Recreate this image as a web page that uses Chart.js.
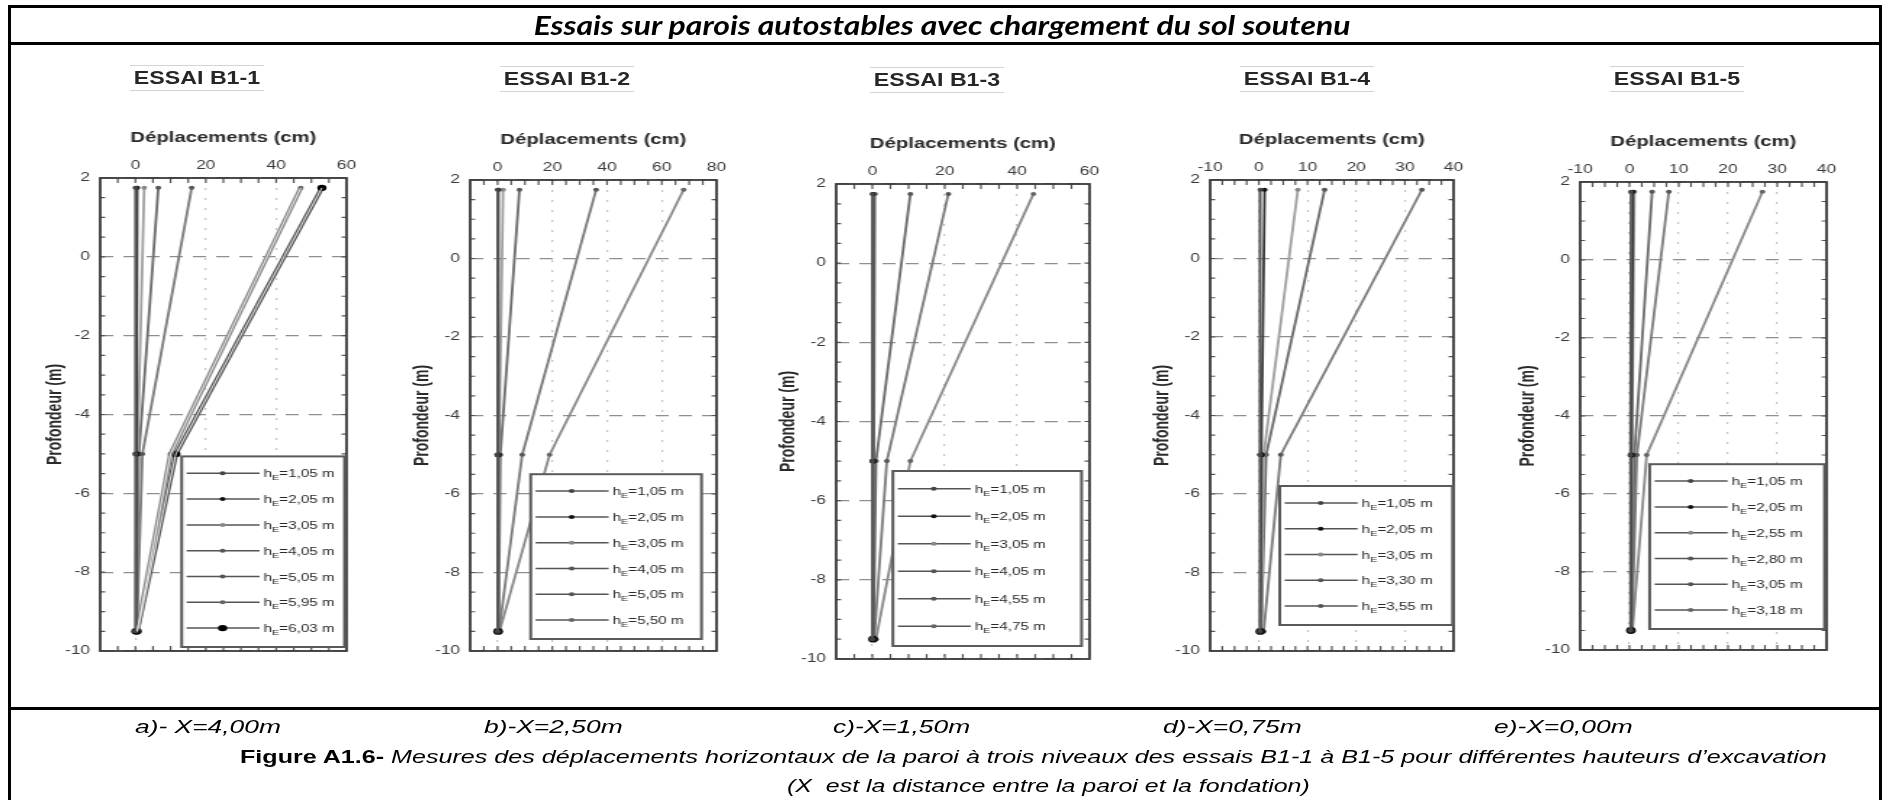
<!DOCTYPE html>
<html lang="fr">
<head>
<meta charset="utf-8">
<title>Essais sur parois autostables</title>
<script src="https://cdn.jsdelivr.net/npm/chart.js@4.4.1/dist/chart.umd.min.js"></script>
<style>
  html, body { margin: 0; padding: 0; background: #fff; }
  body { position: relative; width: 1885px; height: 800px; overflow: hidden; font-family: "Liberation Sans", Arial, sans-serif; color: #000; }
  .rule { position: absolute; background: #000; }
  .panel { position: absolute; filter: blur(0.4px); }
  .essai { position: absolute; font: bold 18px "Liberation Sans", Arial, sans-serif; color: #262626;
           border-top: 1px solid #d4d4d4; border-bottom: 1px solid #d4d4d4; padding: 0 3px; line-height: 24px;
           white-space: nowrap; filter: blur(0.5px); transform-origin: left top; }
  #heading { position: absolute; left: 0; top: 9px; width: 1885px; text-align: center; line-height: 30px; }
  #heading span { display: inline-block; font: italic bold 26px Lato, "Open Sans", sans-serif; white-space: nowrap; }
  .cap { position: absolute; white-space: nowrap; font: italic 19px "Liberation Sans", Arial, sans-serif; line-height: 22px; transform-origin: left center; }
  .cap b { font-style: normal; }
</style>
</head>
<body>
<div class="rule" style="left:8px; top:5px; width:1874px; height:3px"></div>
<div class="rule" style="left:8px; top:42px; width:1874px; height:3px"></div>
<div class="rule" style="left:8px; top:707px; width:1874px; height:3px"></div>
<div class="rule" style="left:8px; top:5px; width:3px; height:800px"></div>
<div class="rule" style="left:1879px; top:5px; width:3px; height:800px"></div>

<div id="heading"><span id="headText">Essais sur parois autostables avec chargement du sol soutenu</span></div>

<div class="essai" data-cx="197" style="top:65px">ESSAI B1-1</div>
<div class="essai" data-cx="567" style="top:66px">ESSAI B1-2</div>
<div class="essai" data-cx="937" style="top:67px">ESSAI B1-3</div>
<div class="essai" data-cx="1307" style="top:66px">ESSAI B1-4</div>
<div class="essai" data-cx="1677" style="top:66px">ESSAI B1-5</div>

<div class="panel" id="p1"><canvas id="c1"></canvas></div>
<div class="panel" id="p2"><canvas id="c2"></canvas></div>
<div class="panel" id="p3"><canvas id="c3"></canvas></div>
<div class="panel" id="p4"><canvas id="c4"></canvas></div>
<div class="panel" id="p5"><canvas id="c5"></canvas></div>

<div class="cap sub" style="left:135px; top:716px">a)- X=4,00m</div>
<div class="cap sub" style="left:484px; top:716px">b)-X=2,50m</div>
<div class="cap sub" style="left:833px; top:716px">c)-X=1,50m</div>
<div class="cap sub" style="left:1163px; top:716px">d)-X=0,75m</div>
<div class="cap sub" style="left:1494px; top:716px">e)-X=0,00m</div>
<div class="cap" id="figLine" style="left:240px; top:746px"><b>Figure A1.6-</b> Mesures des déplacements horizontaux de la paroi à trois niveaux des essais B1-1 à B1-5 pour différentes hauteurs d’excavation</div>
<div class="cap" id="noteLine" style="left:787px; top:775px">(X&nbsp; est la distance entre la paroi et la fondation)</div>

<script>
// profondeurs des trois points de mesure (m)
const levels = [1.75, -5, -9.5];
const yTicks = [2, 0, -2, -4, -6, -8, -10];

// ESSAI B1-1
const b11Heights = ['1,05', '2,05', '3,05', '4,05', '5,05', '5,95', '6,03'];
const b11Top  = [0, 0.5, 2.5, 6.5, 16, 47, 53];
const b11Mid  = [0, 0.3, 0.6, 1, 2, 10, 11.5];
const b11Base = [0, 0.2, 0.3, 0.3, 0.4, 0.5, 0.5];
const b11XTicks = [0, 20, 40, 60];

// ESSAI B1-2
const b12Heights = ['1,05', '2,05', '3,05', '4,05', '5,05', '5,50'];
const b12Top  = [0, 0.3, 2, 8, 36, 68];
const b12Mid  = [0, 0.2, 0.5, 1, 9, 19];
const b12Base = [0, 0.2, 0.3, 0.4, 0.5, 0.7];
const b12XTicks = [0, 20, 40, 60, 80];

// ESSAI B1-3
const b13Heights = ['1,05', '2,05', '3,05', '4,05', '4,55', '4,75'];
const b13Top  = [0, 0.3, 0.8, 10.5, 21, 44.5];
const b13Mid  = [0, 0.2, 0.4, 1, 4, 10.5];
const b13Base = [0, 0.2, 0.2, 0.3, 0.5, 1];
const b13XTicks = [0, 20, 40, 60];

// ESSAI B1-4
const b14Heights = ['1,05', '2,05', '3,05', '3,30', '3,55'];
const b14Top  = [0.3, 1.2, 8, 13.5, 33.5];
const b14Mid  = [0.2, 0.5, 1, 1.5, 4.5];
const b14Base = [0.2, 0.3, 0.5, 0.5, 1];
const b14XTicks = [-10, 0, 10, 20, 30, 40];

// ESSAI B1-5
const b15Heights = ['1,05', '2,05', '2,55', '2,80', '3,05', '3,18'];
const b15Top  = [0.3, 0.7, 1, 4.6, 8, 27];
const b15Mid  = [0.2, 0.4, 0.5, 1, 1.5, 3.5];
const b15Base = [0.2, 0.3, 0.3, 0.4, 0.5, 0.6];
const b15XTicks = [-10, 0, 10, 20, 30, 40];

// niveaux de gris des courbes
const lineGreys  = ['#5a5a5a', '#383838', '#a0a0a0', '#6c6c6c', '#7c7c7c', '#8a8a8a', '#555555'];
const pointGreys = ['#444', '#111', '#888', '#555', '#555', '#666', '#111'];

// la figure d'origine est étirée horizontalement
const S = 1.45;
const AXIS_W = 45, AXIS_H = 58, PAD_R = 10, PAD_B = 12;

// cadre + petites graduations intérieures
const frameTicks = {
    id: 'frameTicks',
    beforeDatasetsDraw(chart, args, opts) {
        const { ctx, chartArea: a, scales: { x, y } } = chart;
        ctx.save();
        ctx.strokeStyle = '#555';
        ctx.lineWidth = 1.2;
        ctx.beginPath();
        const nx = Math.round((x.max - x.min) / opts.xStep);
        for (let i = 1; i < nx; i++) {
            const px = x.getPixelForValue(x.min + i * opts.xStep);
            ctx.moveTo(px, a.top); ctx.lineTo(px, a.top + 5);
            ctx.moveTo(px, a.bottom); ctx.lineTo(px, a.bottom - 5);
        }
        const ny = Math.round((y.max - y.min) / opts.yStep);
        for (let i = 1; i < ny; i++) {
            const py = y.getPixelForValue(y.min + i * opts.yStep);
            ctx.moveTo(a.left, py); ctx.lineTo(a.left + 5 / S, py);
            ctx.moveTo(a.right, py); ctx.lineTo(a.right - 5 / S, py);
        }
        ctx.stroke();
        ctx.lineWidth = 1.8;
        ctx.strokeStyle = '#3a3a3a';
        ctx.strokeRect(a.left, a.top, a.width, a.height);
        ctx.restore();
    }
};

// trait clair au centre des courbes "creuses"
const hollowLines = {
    id: 'hollowLines',
    afterDatasetsDraw(chart) {
        const { ctx } = chart;
        chart.data.datasets.forEach((ds, i) => {
            if (!ds.hollow) return;
            const pts = chart.getDatasetMeta(i).data;
            ctx.save();
            ctx.strokeStyle = '#e6e6e6';
            ctx.lineWidth = 1;
            ctx.beginPath();
            pts.forEach((p, k) => (k ? ctx.lineTo(p.x, p.y) : ctx.moveTo(p.x, p.y)));
            ctx.stroke();
            ctx.restore();
        });
    }
};

// légende encadrée dans le coin bas-droit du graphique
const boxLegend = {
    id: 'boxLegend',
    afterDatasetsDraw(chart, args, opts) {
        const { ctx, chartArea: a } = chart;
        const sets = chart.data.datasets;
        const w = opts.width / S;
        const h = opts.padTop + sets.length * opts.rowH + opts.padBottom;
        const x0 = a.right - opts.right / S - w;
        const y0 = a.bottom - opts.bottom - h;
        ctx.save();
        ctx.fillStyle = '#fff';
        ctx.fillRect(x0, y0, w, h);
        ctx.strokeStyle = '#5a5a5a';
        ctx.lineWidth = 2;
        ctx.strokeRect(x0, y0, w, h);
        sets.forEach((ds, i) => {
            const cy = y0 + opts.padTop + (i + 0.5) * opts.rowH;
            ctx.strokeStyle = '#555';
            ctx.lineWidth = 1.5;
            ctx.beginPath();
            ctx.moveTo(x0 + 5 / S, cy); ctx.lineTo(x0 + 78 / S, cy);
            ctx.stroke();
            const r = Array.isArray(ds.pointRadius) ? ds.pointRadius[0] : ds.pointRadius;
            ctx.fillStyle = ds.pointBackgroundColor;
            ctx.beginPath();
            ctx.arc(x0 + 41 / S, cy, r, 0, Math.PI * 2);
            ctx.fill();
            ctx.fillStyle = '#2a2a2a';
            let tx = x0 + 82 / S;
            ctx.font = '10.5px "Liberation Sans", Arial';
            ctx.fillText('h', tx, cy + 4);
            tx += ctx.measureText('h').width;
            ctx.font = '7.5px "Liberation Sans", Arial';
            ctx.fillText('E', tx, cy + 7);
            tx += ctx.measureText('E').width;
            ctx.font = '10.5px "Liberation Sans", Arial';
            ctx.fillText('=' + ds.label + ' m', tx, cy + 4);
        });
        ctx.restore();
    }
};

function buildSets(heights, top, mid, base, hollow) {
    const big = heights.length === 7;
    return heights.map((h, i) => {
        const isBig = big && i === heights.length - 1;
        const isHollow = hollow.includes(i);
        return {
            label: h,
            data: [top[i], mid[i], base[i]].map((v, k) => ({ x: v, y: levels[k] })),
            showLine: true,
            hollow: isHollow,
            borderColor: lineGreys[i],
            borderWidth: isHollow ? 3.4 : 1.8,
            pointRadius: isBig ? 3.2 : (i === 1 ? [2, 2.6, 3.4] : 2),
            pointBackgroundColor: isBig ? '#000' : pointGreys[i],
            pointBorderWidth: 0
        };
    });
}

function makePanel(num, spec) {
    const wrap = document.getElementById('p' + num);
    const canvas = document.getElementById('c' + num);
    const innerW = (spec.box.r - spec.box.l) / S;
    const w = Math.round(AXIS_W + innerW + PAD_R);
    const h = spec.box.b - spec.box.t + AXIS_H + PAD_B;
    wrap.style.left = (spec.box.l - AXIS_W * S) + 'px';
    wrap.style.top = (spec.box.t - AXIS_H) + 'px';
    canvas.width = w;
    canvas.height = h;
    canvas.style.width = (w * S) + 'px';
    canvas.style.height = h + 'px';
    const titlePad = AXIS_W - spec.yTitleOff / S - 8.4;

    new Chart(canvas.getContext('2d'), {
        type: 'scatter',
        data: { datasets: buildSets(spec.heights, spec.top, spec.mid, spec.base, spec.hollow || []) },
        options: {
            responsive: false,
            animation: false,
            devicePixelRatio: 1,
            layout: { padding: { left: 0, top: 0, right: PAD_R, bottom: PAD_B } },
            plugins: {
                legend: { display: false },
                tooltip: { enabled: false },
                frameTicks: { xStep: spec.xStep, yStep: 0.5 },
                boxLegend: Object.assign({ padTop: 4, padBottom: 6, rowH: 25.8 }, spec.legend)
            },
            scales: {
                x: {
                    type: 'linear',
                    position: 'top',
                    min: spec.xMin,
                    max: spec.xMax,
                    afterBuildTicks: s => { s.ticks = spec.xTicks.map(v => ({ value: v })); },
                    afterFit: s => { s.height = AXIS_H; s.paddingLeft = 0; s.paddingRight = 0; },
                    ticks: { color: '#3a3a3a', font: { size: 12, family: '"Liberation Sans", Arial' }, padding: 5, maxRotation: 0 },
                    grid: { drawTicks: false, color: '#c4c4c4', lineWidth: 1.2 },
                    border: { display: false, dash: [2, 8] },
                    title: {
                        display: true,
                        text: 'Déplacements (cm)',
                        color: '#2a2a2a',
                        font: { size: 14, weight: 'bold', family: '"Liberation Sans", Arial' },
                        padding: { top: 10, bottom: 0 }
                    }
                },
                y: {
                    type: 'linear',
                    position: 'left',
                    min: -10,
                    max: 2,
                    afterBuildTicks: s => { s.ticks = yTicks.map(v => ({ value: v })); },
                    afterFit: s => { s.width = AXIS_W; s.paddingTop = 0; s.paddingBottom = 0; },
                    ticks: { color: '#3a3a3a', font: { size: 12, family: '"Liberation Sans", Arial' }, padding: 7 },
                    grid: { drawTicks: false, color: '#8f8f8f', lineWidth: 1.2 },
                    border: { display: false, dash: [9, 7] },
                    title: {
                        display: true,
                        text: 'Profondeur (m)',
                        color: '#2a2a2a',
                        font: { size: 14, weight: 'bold', family: '"Liberation Sans", Arial' },
                        padding: { top: titlePad, bottom: 0 }
                    }
                }
            }
        },
        plugins: [frameTicks, hollowLines, boxLegend]
    });
}

makePanel(1, {
    box: { l: 100, t: 178, r: 347, b: 651 }, xMin: -10, xMax: 60, xStep: 5, xTicks: b11XTicks,
    heights: b11Heights, top: b11Top, mid: b11Mid, base: b11Base, hollow: [5, 6], yTitleOff: 45,
    legend: { width: 163, right: 2, bottom: 4 }
});
makePanel(2, {
    box: { l: 470, t: 180, r: 716, b: 651 }, xMin: -10, xMax: 80, xStep: 5, xTicks: b12XTicks,
    heights: b12Heights, top: b12Top, mid: b12Mid, base: b12Base, yTitleOff: 47,
    legend: { width: 171, right: 15, bottom: 12 }
});
makePanel(3, {
    box: { l: 836, t: 184, r: 1090, b: 659 }, xMin: -10, xMax: 60, xStep: 5, xTicks: b13XTicks,
    heights: b13Heights, top: b13Top, mid: b13Mid, base: b13Base, yTitleOff: 48,
    legend: { width: 189, right: 8, bottom: 13, rowH: 27.5 }
});
makePanel(4, {
    box: { l: 1210, t: 180, r: 1454, b: 651 }, xMin: -10, xMax: 40, xStep: 2.5, xTicks: b14XTicks,
    heights: b14Heights, top: b14Top, mid: b14Mid, base: b14Base, yTitleOff: 47,
    legend: { width: 173, right: 1, bottom: 26 }
});
makePanel(5, {
    box: { l: 1580, t: 182, r: 1827, b: 650 }, xMin: -10, xMax: 40, xStep: 2.5, xTicks: b15XTicks,
    heights: b15Heights, top: b15Top, mid: b15Mid, base: b15Base, yTitleOff: 52,
    legend: { width: 175, right: 2, bottom: 21 }
});

// ajuste la largeur des textes sur celle de la figure d'origine
function stretchTo(el, target) {
    const k = target / el.getBoundingClientRect().width;
    el.style.transform = 'scaleX(' + k.toFixed(3) + ')';
    return k;
}
const head = document.getElementById('headText');
head.style.transformOrigin = 'center';
stretchTo(head, 817);
document.querySelectorAll('.essai').forEach(el => {
    el.style.left = (+el.dataset.cx - 67) + 'px';
    stretchTo(el, 134);
});
const subs = document.querySelectorAll('.cap.sub');
const subScale = 146 / subs[0].getBoundingClientRect().width;
subs.forEach(el => { el.style.transform = 'scaleX(' + subScale.toFixed(3) + ')'; });
stretchTo(document.getElementById('figLine'), 1587);
stretchTo(document.getElementById('noteLine'), 523);
</script>
</body>
</html>
